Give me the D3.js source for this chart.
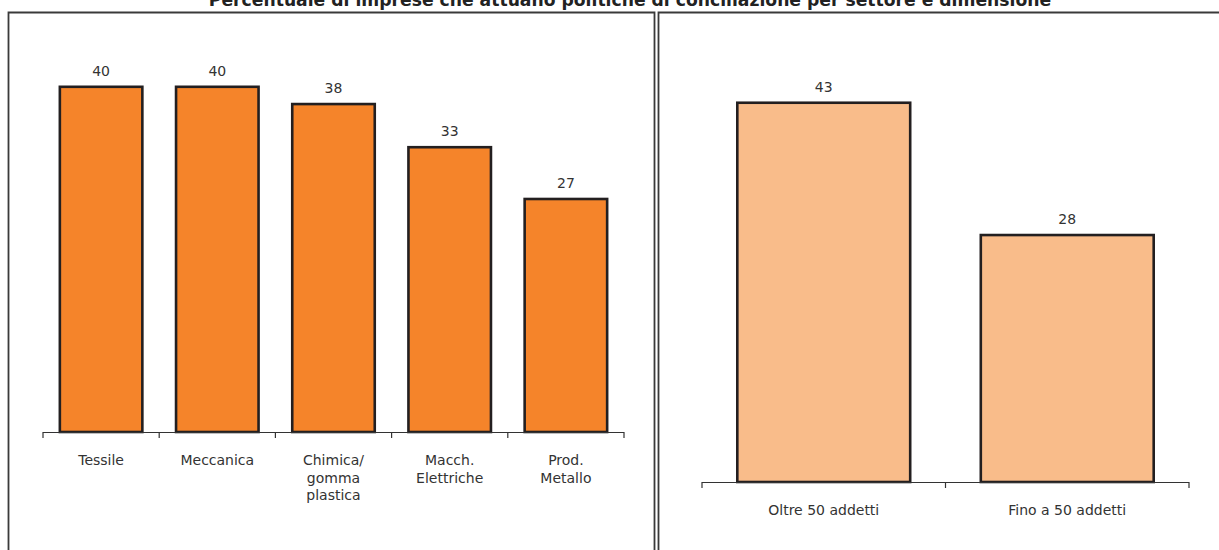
<!DOCTYPE html>
<html>
<head>
<meta charset="utf-8">
<script src="https://cdn.jsdelivr.net/npm/d3@7"></script>
<style>
  html, body { margin: 0; padding: 0; background: #fff; }
  svg { display: block; }
</style>
</head>
<body>
<svg id="chart" width="1219" height="550"></svg>
<script>
// Percentuale di imprese con politiche di conciliazione
const title = "Percentuale di imprese che attuano politiche di conciliazione per settore e dimensione";

const sectorCategories = ["Tessile", "Meccanica", "Chimica/\ngomma\nplastica", "Macch.\nElettriche", "Prod.\nMetallo"];
const sectorValues = [40, 40, 38, 33, 27];

const sizeCategories = ["Oltre 50 addetti", "Fino a 50 addetti"];
const sizeValues = [43, 28];

const svg = d3.select("#chart");
const font = "'DejaVu Sans', Verdana, sans-serif";
const textColor = "#333333";
const barStroke = "#231f20";

// Title (runs off the top edge of the frame)
svg.append("text")
  .attr("x", 630).attr("y", 6)
  .attr("text-anchor", "middle")
  .attr("font-family", font)
  .attr("font-weight", "bold")
  .attr("font-size", 17.2)
  .attr("fill", "#222")
  .text(title);

// Panel frames
svg.append("path")
  .attr("d", "M8.5,560 V12.5 H654.5 V560")
  .attr("fill", "none").attr("stroke", "#3a3a3a").attr("stroke-width", 1.8);
svg.append("path")
  .attr("d", "M658.5,560 V12.5 H1225")
  .attr("fill", "none").attr("stroke", "#3a3a3a").attr("stroke-width", 1.8);

function drawPanel(cfg) {
  const g = svg.append("g");
  const x = d3.scaleBand()
    .domain(cfg.categories)
    .range(cfg.xRange)
    .paddingInner(0.29)
    .paddingOuter(0.145);
  const y = d3.scaleLinear().domain([0, 50]).range([cfg.baseY, cfg.baseY - 50 * cfg.pxPerUnit]);

  const data = cfg.categories.map((c, i) => ({ c, v: cfg.values[i] }));

  g.selectAll("rect.bar").data(data).join("rect")
    .attr("class", "bar")
    .attr("x", d => x(d.c))
    .attr("y", d => y(d.v))
    .attr("width", x.bandwidth())
    .attr("height", d => y(0) - y(d.v))
    .attr("fill", cfg.fill)
    .attr("stroke", barStroke)
    .attr("stroke-width", 2.6);

  g.selectAll("text.val").data(data).join("text")
    .attr("class", "val")
    .attr("x", d => x(d.c) + x.bandwidth() / 2)
    .attr("y", d => y(d.v) - 11)
    .attr("text-anchor", "middle")
    .attr("font-family", font)
    .attr("font-size", 14)
    .attr("fill", textColor)
    .text(d => d.v);

  // Category axis: baseline with ticks at band boundaries
  const r0 = cfg.xRange[0], r1 = cfg.xRange[1];
  const boundaries = d3.range(cfg.categories.length + 1).map(i => r0 + i * x.step());
  g.append("line")
    .attr("x1", r0).attr("x2", r1)
    .attr("y1", cfg.baseY + 0.5).attr("y2", cfg.baseY + 0.5)
    .attr("stroke", "#333").attr("stroke-width", 1.2);
  g.selectAll("line.tick").data(boundaries).join("line")
    .attr("class", "tick")
    .attr("x1", d => d).attr("x2", d => d)
    .attr("y1", cfg.baseY).attr("y2", cfg.baseY + 6)
    .attr("stroke", "#333").attr("stroke-width", 1.2);

  const labels = g.selectAll("text.cat").data(data).join("text")
    .attr("class", "cat")
    .attr("text-anchor", "middle")
    .attr("font-family", font)
    .attr("font-size", 14)
    .attr("fill", textColor);
  labels.each(function(d) {
    const t = d3.select(this);
    d.c.split("\n").forEach((line, i) => {
      t.append("tspan")
        .attr("x", x(d.c) + x.bandwidth() / 2)
        .attr("y", cfg.baseY + 33 + i * 17.5)
        .text(line);
    });
  });
}

drawPanel({
  categories: sectorCategories,
  values: sectorValues,
  xRange: [43, 624],
  baseY: 432,
  pxPerUnit: 8.63,
  fill: "#f5842a"
});

drawPanel({
  categories: sizeCategories,
  values: sizeValues,
  xRange: [702, 1189],
  baseY: 482,
  pxPerUnit: 8.82,
  fill: "#f9bc8a"
});
</script>
</body>
</html>
